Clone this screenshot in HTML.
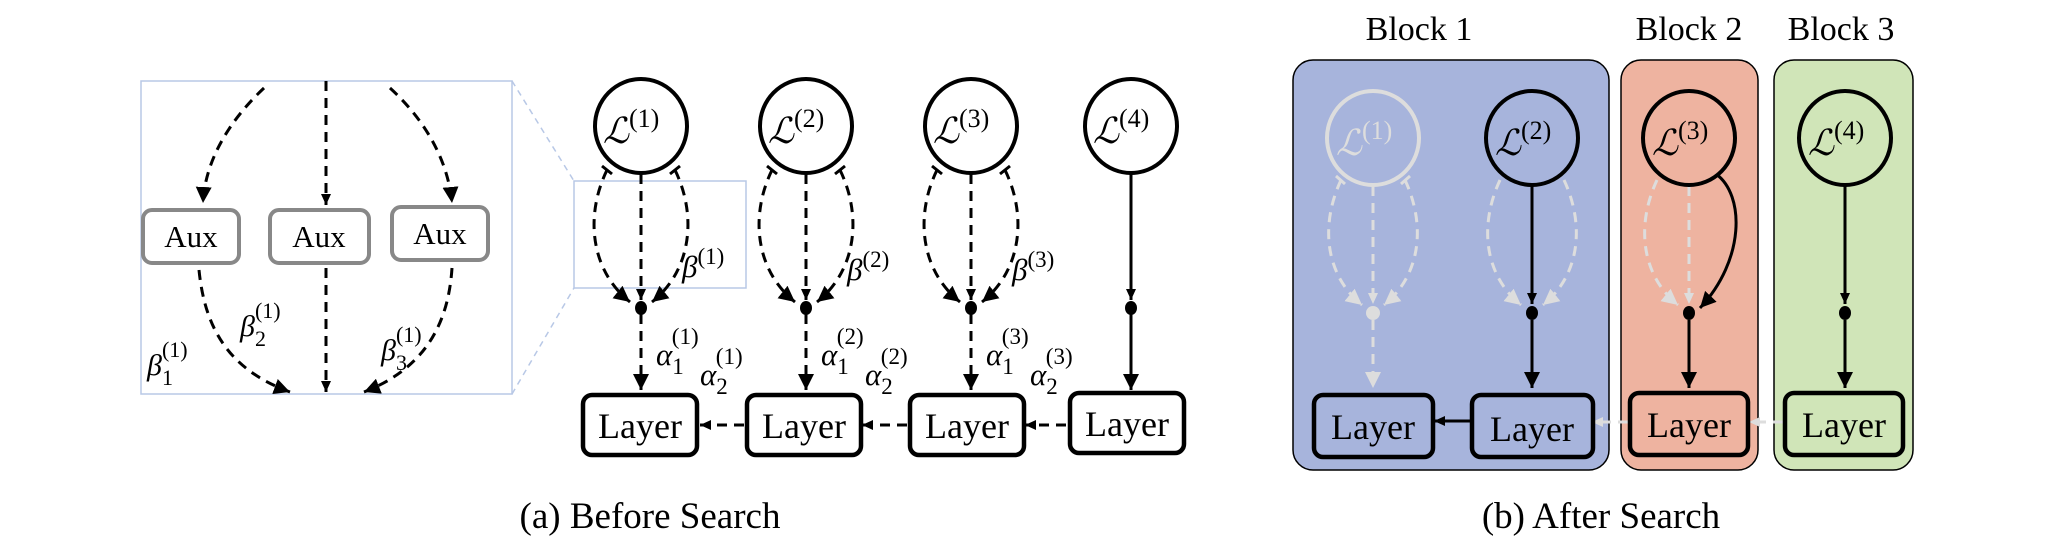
<!DOCTYPE html>
<html><head><meta charset="utf-8"><style>
html,body{margin:0;padding:0;background:#fff;}
svg{display:block;}
text{font-family:"Liberation Serif","DejaVu Serif",serif;}
.m{font-style:italic;}
</style></head><body>
<svg width="2060" height="554" viewBox="0 0 2060 554" xmlns="http://www.w3.org/2000/svg">
<defs>
<marker id="ab" markerUnits="userSpaceOnUse" markerWidth="18" markerHeight="16" refX="16" refY="8" orient="auto"><path d="M0,0 L16,8 L0,16 Z" fill="#000"/></marker>
<marker id="ag" markerUnits="userSpaceOnUse" markerWidth="18" markerHeight="16" refX="16" refY="8" orient="auto"><path d="M0,0 L16,8 L0,16 Z" fill="#ddd"/></marker>
<marker id="as" markerUnits="userSpaceOnUse" markerWidth="12" markerHeight="12" refX="11" refY="6" orient="auto"><path d="M0,1 L11,6 L0,11 Z" fill="#000"/></marker>
<marker id="asg" markerUnits="userSpaceOnUse" markerWidth="12" markerHeight="12" refX="11" refY="6" orient="auto"><path d="M0,1 L11,6 L0,11 Z" fill="#ddd"/></marker>
</defs>

<!-- ===== (a) zoom panel ===== -->
<rect x="141" y="81" width="371" height="313" fill="none" stroke="#b8c8e6" stroke-width="1.5"/>
<line x1="512" y1="81" x2="574" y2="181" stroke="#b8c8e6" stroke-width="1.5" stroke-dasharray="6,5"/>
<line x1="512" y1="394" x2="574" y2="288" stroke="#b8c8e6" stroke-width="1.5" stroke-dasharray="6,5"/>
<g fill="none" stroke="#000" stroke-width="3" stroke-dasharray="10,7">
<path d="M264,88 C230,120 205,160 203,203" marker-end="url(#ab)"/>
<line x1="326" y1="81" x2="326" y2="205" marker-end="url(#as)"/>
<path d="M390,88 C425,120 448,160 452,203" marker-end="url(#ab)"/>
<path d="M199,270 C205,330 230,370 290,392" marker-end="url(#ab)"/>
<line x1="326" y1="268" x2="326" y2="392" marker-end="url(#as)"/>
<path d="M452,268 C448,330 420,370 364,392" marker-end="url(#ab)"/>
</g>
<g fill="#fff" stroke="#888" stroke-width="4">
<rect x="143" y="210" width="96" height="53" rx="9"/>
<rect x="270" y="210" width="99" height="53" rx="9"/>
<rect x="392" y="207" width="96" height="53" rx="9"/>
</g>
<g font-size="31" text-anchor="middle" fill="#000">
<text x="191" y="247">Aux</text><text x="319" y="247">Aux</text><text x="440" y="244">Aux</text>
</g>
<g font-size="30" fill="#000">
<text x="147" y="375" class="m">β<tspan font-size="22" dy="10" font-style="normal">1</tspan><tspan font-size="22" dx="-11" dy="-28" font-style="normal">(1)</tspan></text>
<text x="240" y="336" class="m">β<tspan font-size="22" dy="10" font-style="normal">2</tspan><tspan font-size="22" dx="-11" dy="-28" font-style="normal">(1)</tspan></text>
<text x="381" y="360" class="m">β<tspan font-size="22" dy="10" font-style="normal">3</tspan><tspan font-size="22" dx="-11" dy="-28" font-style="normal">(1)</tspan></text>
</g>
<rect x="574" y="181" width="172" height="107" fill="none" stroke="#b8c8e6" stroke-width="1.5"/>

<!-- ===== (a) columns ===== -->
<g fill="none" stroke="#000" stroke-width="3" stroke-dasharray="10,7">
<path d="M607,170 C585,215 590,270 630,302" marker-end="url(#ab)"/>
<line x1="641" y1="174" x2="641" y2="300" marker-end="url(#as)"/>
<path d="M675,170 C697,215 692,270 652,302" marker-end="url(#ab)"/>
<line x1="641" y1="314" x2="641" y2="390" marker-end="url(#ab)"/>
<path d="M772,170 C750,215 755,270 795,302" marker-end="url(#ab)"/>
<line x1="806" y1="174" x2="806" y2="300" marker-end="url(#as)"/>
<path d="M840,170 C862,215 857,270 817,302" marker-end="url(#ab)"/>
<line x1="806" y1="314" x2="806" y2="390" marker-end="url(#ab)"/>
<path d="M937,170 C915,215 920,270 960,302" marker-end="url(#ab)"/>
<line x1="971" y1="174" x2="971" y2="300" marker-end="url(#as)"/>
<path d="M1005,170 C1027,215 1022,270 982,302" marker-end="url(#ab)"/>
<line x1="971" y1="314" x2="971" y2="390" marker-end="url(#ab)"/>
<line x1="744" y1="425" x2="700" y2="425" marker-end="url(#as)"/>
<line x1="907" y1="425" x2="862" y2="425" marker-end="url(#as)"/>
<line x1="1066" y1="425" x2="1025" y2="425" marker-end="url(#as)"/>
</g>
<g fill="none" stroke="#000" stroke-width="3">
<line x1="1131" y1="174" x2="1131" y2="300" marker-end="url(#as)"/>
<line x1="1131" y1="312" x2="1131" y2="390" marker-end="url(#ab)"/>
<line x1="602" y1="166" x2="612" y2="174"/><line x1="680" y1="166" x2="670" y2="174"/>
<line x1="767" y1="166" x2="777" y2="174"/><line x1="845" y1="166" x2="835" y2="174"/>
<line x1="932" y1="166" x2="942" y2="174"/><line x1="1010" y1="166" x2="1000" y2="174"/>
</g>
<g fill="#fff" stroke="#000" stroke-width="4">
<ellipse cx="641" cy="126" rx="46" ry="47"/>
<ellipse cx="806" cy="126" rx="46" ry="47"/>
<ellipse cx="971" cy="126" rx="46" ry="47"/>
<ellipse cx="1131" cy="126" rx="46" ry="47"/>
</g>
<g fill="#000">
<ellipse cx="641" cy="308" rx="6" ry="7"/><ellipse cx="806" cy="308" rx="6" ry="7"/>
<ellipse cx="971" cy="308" rx="6" ry="7"/><ellipse cx="1131" cy="308" rx="6" ry="7"/>
</g>
<g font-size="36" fill="#000">
<text x="603" y="143" class="m">ℒ<tspan font-size="26" dy="-16" font-style="normal">(1)</tspan></text>
<text x="768" y="143" class="m">ℒ<tspan font-size="26" dy="-16" font-style="normal">(2)</tspan></text>
<text x="933" y="143" class="m">ℒ<tspan font-size="26" dy="-16" font-style="normal">(3)</tspan></text>
<text x="1093" y="143" class="m">ℒ<tspan font-size="26" dy="-16" font-style="normal">(4)</tspan></text>
</g>
<g font-size="31" fill="#000">
<text x="682" y="277" class="m">β<tspan font-size="23" dy="-13" font-style="normal">(1)</tspan></text>
<text x="847" y="280" class="m">β<tspan font-size="23" dy="-13" font-style="normal">(2)</tspan></text>
<text x="1012" y="280" class="m">β<tspan font-size="23" dy="-13" font-style="normal">(3)</tspan></text>
<text x="656" y="365" class="m">α<tspan font-size="23" dy="9" font-style="normal">1</tspan><tspan font-size="23" dx="-12" dy="-30" font-style="normal">(1)</tspan></text>
<text x="700" y="385" class="m">α<tspan font-size="23" dy="9" font-style="normal">2</tspan><tspan font-size="23" dx="-12" dy="-30" font-style="normal">(1)</tspan></text>
<text x="821" y="365" class="m">α<tspan font-size="23" dy="9" font-style="normal">1</tspan><tspan font-size="23" dx="-12" dy="-30" font-style="normal">(2)</tspan></text>
<text x="865" y="385" class="m">α<tspan font-size="23" dy="9" font-style="normal">2</tspan><tspan font-size="23" dx="-12" dy="-30" font-style="normal">(2)</tspan></text>
<text x="986" y="365" class="m">α<tspan font-size="23" dy="9" font-style="normal">1</tspan><tspan font-size="23" dx="-12" dy="-30" font-style="normal">(3)</tspan></text>
<text x="1030" y="385" class="m">α<tspan font-size="23" dy="9" font-style="normal">2</tspan><tspan font-size="23" dx="-12" dy="-30" font-style="normal">(3)</tspan></text>
</g>
<g fill="#fff" stroke="#000" stroke-width="4.5">
<rect x="583" y="395" width="114" height="60" rx="9"/>
<rect x="747" y="395" width="114" height="60" rx="9"/>
<rect x="910" y="395" width="114" height="60" rx="9"/>
<rect x="1070" y="393" width="114" height="60" rx="9"/>
</g>
<g font-size="36" text-anchor="middle" fill="#000">
<text x="640" y="438">Layer</text><text x="804" y="438">Layer</text>
<text x="967" y="438">Layer</text><text x="1127" y="436">Layer</text>
</g>
<text x="650" y="528" font-size="37" text-anchor="middle" fill="#000">(a) Before Search</text>

<!-- ===== (b) ===== -->
<g stroke="#000" stroke-width="1.5">
<rect x="1293" y="60" width="316" height="410" rx="20" fill="#a7b4dc"/>
<rect x="1621" y="60" width="137" height="410" rx="20" fill="#eeb3a0"/>
<rect x="1774" y="60" width="139" height="410" rx="20" fill="#d0e5b8"/>
</g>
<g font-size="34" text-anchor="middle" fill="#000">
<text x="1419" y="40">Block 1</text><text x="1689" y="40">Block 2</text><text x="1841" y="40">Block 3</text>
</g>
<g fill="none" stroke="#ddd" stroke-width="3" stroke-dasharray="10,7">
<!-- col1 cx=1373 -->
<path d="M1341,180 C1320,225 1325,275 1362,305" marker-end="url(#ag)"/>
<line x1="1373" y1="186" x2="1373" y2="304" marker-end="url(#asg)"/>
<path d="M1405,180 C1426,225 1421,275 1384,305" marker-end="url(#ag)"/>
<line x1="1373" y1="320" x2="1373" y2="388" marker-end="url(#ag)"/>
<!-- col2 cx=1532 -->
<path d="M1500,180 C1479,225 1484,275 1521,305" marker-end="url(#ag)"/>
<path d="M1564,180 C1585,225 1580,275 1543,305" marker-end="url(#ag)"/>
<!-- col3 cx=1689 -->
<path d="M1657,180 C1636,225 1641,275 1678,305" marker-end="url(#ag)"/>
<line x1="1689" y1="186" x2="1689" y2="304" marker-end="url(#asg)"/>
<line x1="1628" y1="422" x2="1592" y2="422" marker-end="url(#asg)"/>
<line x1="1783" y1="422" x2="1749" y2="422" marker-end="url(#asg)"/>
</g>
<g fill="none" stroke="#ddd" stroke-width="3">
<line x1="1336" y1="176" x2="1345" y2="184"/><line x1="1410" y1="176" x2="1401" y2="184"/>
</g>
<g fill="none" stroke="#000" stroke-width="3">
<line x1="1532" y1="186" x2="1532" y2="304" marker-end="url(#as)"/>
<line x1="1532" y1="320" x2="1532" y2="388" marker-end="url(#ab)"/>
<path d="M1716,174 C1745,195 1745,260 1700,308" marker-end="url(#ab)"/>
<line x1="1689" y1="320" x2="1689" y2="388" marker-end="url(#ab)"/>
<line x1="1845" y1="186" x2="1845" y2="304" marker-end="url(#as)"/>
<line x1="1845" y1="320" x2="1845" y2="388" marker-end="url(#ab)"/>
<line x1="1471" y1="421" x2="1434" y2="421" marker-end="url(#as)"/>
</g>
<g fill="none" stroke-width="4">
<ellipse cx="1373" cy="138" rx="46" ry="47" stroke="#ddd"/>
<ellipse cx="1532" cy="138" rx="46" ry="47" stroke="#000"/>
<ellipse cx="1689" cy="138" rx="46" ry="47" stroke="#000"/>
<ellipse cx="1845" cy="138" rx="46" ry="47" stroke="#000"/>
</g>
<ellipse cx="1373" cy="313" rx="7" ry="7" fill="#ddd"/>
<ellipse cx="1532" cy="313" rx="6" ry="7" fill="#000"/>
<ellipse cx="1689" cy="313" rx="6" ry="7" fill="#000"/>
<ellipse cx="1845" cy="313" rx="6" ry="7" fill="#000"/>
<g font-size="36">
<text x="1336" y="155" class="m" fill="#ddd">ℒ<tspan font-size="26" dy="-16" font-style="normal">(1)</tspan></text>
<text x="1495" y="155" class="m" fill="#000">ℒ<tspan font-size="26" dy="-16" font-style="normal">(2)</tspan></text>
<text x="1652" y="155" class="m" fill="#000">ℒ<tspan font-size="26" dy="-16" font-style="normal">(3)</tspan></text>
<text x="1808" y="155" class="m" fill="#000">ℒ<tspan font-size="26" dy="-16" font-style="normal">(4)</tspan></text>
</g>
<g fill="none" stroke="#000" stroke-width="4.5">
<rect x="1314" y="395" width="119" height="62" rx="9"/>
<rect x="1472" y="395" width="121" height="62" rx="9"/>
<rect x="1630" y="393" width="118" height="62" rx="9"/>
<rect x="1785" y="393" width="118" height="62" rx="9"/>
</g>
<g font-size="36" text-anchor="middle" fill="#000">
<text x="1373" y="439">Layer</text><text x="1532" y="441">Layer</text>
<text x="1689" y="437">Layer</text><text x="1844" y="437">Layer</text>
</g>
<text x="1601" y="528" font-size="37" text-anchor="middle" fill="#000">(b) After Search</text>
</svg>
</body></html>
